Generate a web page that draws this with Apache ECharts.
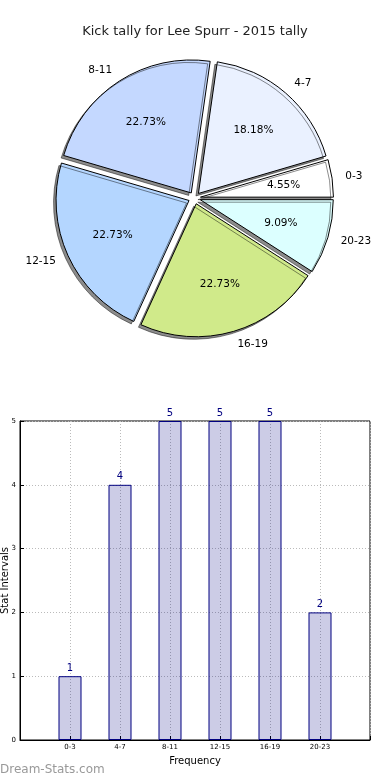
<!DOCTYPE html>
<html>
<head>
<meta charset="utf-8">
<script src="https://cdn.jsdelivr.net/npm/echarts@6/dist/echarts.min.js"></script>
<style>
html,body{margin:0;padding:0;background:#fff;}
#c{width:390px;height:780px;}
</style>
</head>
<body>
<div id="c"></div>
<script>
const titleText = 'Kick tally for Lee Spurr - 2015 tally';
const categories = ['0-3', '4-7', '8-11', '12-15', '16-19', '20-23'];
const values = [1, 4, 5, 5, 5, 2];
const sliceColors = ['#ffffff', '#eaf1ff', '#c4d8ff', '#b4d6ff', '#d0ea8a', '#dcffff'];
const yTicks = [0, 1, 2, 3, 4, 5];
const watermark = 'Dream-Stats.com';

const FONT = 'DejaVu Sans';
const R = 133;
const EXPLODE = 6;
const total = values.reduce((a, b) => a + b, 0);

const pieData = categories.map((c, i) => ({
  name: c, value: values[i], selected: true,
  itemStyle: { color: sliceColors[i] }
}));
const pctData = categories.map((c, i) => ({
  name: c, value: values[i], selected: true
}));
const barData = categories.map((c, i) => [i, values[i]]);

const chart = echarts.init(document.getElementById('c'), null, { renderer: 'canvas' });
chart.setOption({
  animation: false,
  backgroundColor: '#ffffff',
  textStyle: { fontFamily: FONT },
  title: {
    text: titleText, left: 'center', top: 20,
    textStyle: { fontFamily: FONT, fontSize: 13, fontWeight: 'normal', color: '#222' }
  },
  graphic: [{
    type: 'text', left: 0, top: 764,
    style: { text: watermark, font: '12px "DejaVu Sans"', fill: '#999999' }
  }],
  grid: {
    left: 20, right: 20, top: 421, bottom: 40,
    outerBoundsMode: 'none', containLabel: false,
    show: true, borderColor: '#000', borderWidth: 1, backgroundColor: 'transparent'
  },
  xAxis: {
    type: 'value', min: -1, max: 6, interval: 1,
    name: 'Frequency', nameLocation: 'middle', nameGap: 16, nameMoveOverlap: false,
    nameTextStyle: { fontFamily: FONT, fontSize: 10, color: '#000' },
    axisLine: { show: true, onZero: false, lineStyle: { color: '#000' } },
    axisTick: { show: true, inside: true, length: 4, lineStyle: { color: '#000' } },
    axisLabel: {
      fontFamily: FONT, fontSize: 7, color: '#000', margin: 4,
      formatter: v => (v >= 0 && v < categories.length) ? categories[v] : ''
    },
    splitLine: { show: true, lineStyle: { color: '#bbbbbb', type: [1, 2] } }
  },
  yAxis: {
    type: 'value', min: yTicks[0], max: yTicks[yTicks.length - 1], interval: 1,
    name: 'Stat Intervals', nameLocation: 'middle', nameGap: 10, nameMoveOverlap: false,
    nameTextStyle: { fontFamily: FONT, fontSize: 10, color: '#000' },
    axisLine: { show: true, onZero: false, lineStyle: { color: '#000' } },
    axisTick: { show: true, inside: true, length: 4, lineStyle: { color: '#000' } },
    axisLabel: { fontFamily: FONT, fontSize: 7, color: '#000', margin: 4 },
    splitLine: { show: true, lineStyle: { color: '#bbbbbb', type: [1, 2] } }
  },
  series: [
    {
      type: 'pie', center: [194.5, 198], radius: R,
      startAngle: 0, clockwise: false,
      selectedMode: 'multiple', selectedOffset: EXPLODE,
      avoidLabelOverlap: false, silent: true,
      itemStyle: {
        borderColor: '#000', borderWidth: 1,
        shadowColor: 'rgba(0,0,0,0.45)', shadowBlur: 0.5, shadowOffsetX: -2.5, shadowOffsetY: 2.5
      },
      label: {
        show: true, position: 'outside', formatter: '{b}',
        fontFamily: FONT, fontSize: 10.5, color: '#000', distanceToLabelLine: 0
      },
      labelLine: { show: false, length: 0.1 * R, length2: 0 },
      data: pieData
    },
    {
      type: 'pie', center: [194.5, 198], radius: 1.2 * R,
      startAngle: 0, clockwise: false,
      selectedMode: 'multiple', selectedOffset: EXPLODE * 1.2,
      avoidLabelOverlap: false, silent: true,
      itemStyle: { color: 'rgba(0,0,0,0)', borderWidth: 0 },
      label: {
        show: true, position: 'inside',
        formatter: p => (p.value / total * 100).toFixed(2) + '%',
        fontFamily: FONT, fontSize: 10.5, color: '#000'
      },
      labelLine: { show: false },
      data: pctData
    },
    {
      type: 'bar', barWidth: 23,
      itemStyle: { color: 'rgba(0,0,128,0.2)', borderColor: '#000080', borderWidth: 1 },
      label: {
        show: true, position: 'top', distance: 3,
        fontFamily: FONT, fontSize: 10, color: '#000080'
      },
      data: barData
    }
  ]
});
</script>
</body>
</html>
